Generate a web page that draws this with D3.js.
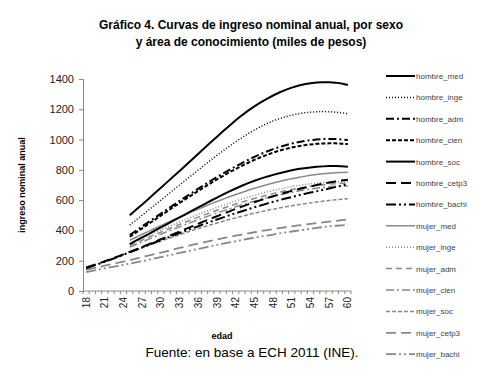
<!DOCTYPE html>
<html>
<head>
<meta charset="utf-8">
<script src="https://cdn.jsdelivr.net/npm/d3@7"></script>
<style>
  body { margin: 0; background: #fff; }
  svg { font-family: Arial, "Liberation Sans", sans-serif; }
</style>
</head>
<body>
<div id="chart"></div>
<script>
// edades (categorias del eje x)
var ages = d3.range(18, 61);

// valores (miles de pesos), universitarios desde 25, el resto desde 18
var hombre_med = [500,536,572,608,645,682,719,756,793,830,868,906,944,982,1019,1056,1092,1127,1160,1191,1219,1245,1269,1291,1311,1328,1343,1355,1365,1372,1377,1379,1379,1376,1370,1361];
var hombre_inge = [435,468,501,534,567,600,633,667,700,733,766,799,832,864,896,927,957,986,1013,1039,1063,1085,1105,1123,1138,1151,1162,1170,1177,1181,1184,1185,1184,1181,1177,1171];
var hombre_adm = [370,398,427,455,483,511,539,567,595,622,649,676,702,728,753,777,800,823,845,866,886,904,921,937,951,963,974,983,990,996,1000,1003,1004,1003,1001,997];
var hombre_cien = [358,386,414,442,470,498,526,554,581,608,635,661,687,712,737,761,784,806,827,847,866,883,899,914,927,938,948,956,963,968,972,974,975,975,973,970];
var hombre_soc = [310,332,354,376,398,420,442,464,486,508,530,552,574,596,617,638,658,677,695,712,728,742,755,767,778,788,797,805,811,816,820,823,825,825,824,821];
var hombre_cetp3 = [155,168,182,196,211,226,242,258,274,291,308,325,342,359,376,393,410,427,444,461,478,494,510,526,542,557,572,586,600,613,626,638,650,661,672,682,691,700,708,716,723,729,735];
var hombre_bachi = [150,164,178,193,208,224,240,256,272,288,304,320,336,352,368,383,398,413,428,443,458,472,486,500,514,527,540,553,565,577,589,600,611,621,631,641,650,659,668,677,686,695,705];
var mujer_med = [335,355,375,394,413,432,451,470,488,506,524,541,558,575,591,607,622,637,651,665,678,690,702,713,723,733,742,750,757,764,769,774,778,781,783,785];
var mujer_inge = [310,329,348,367,385,403,421,439,456,473,490,506,522,537,552,566,580,594,607,620,632,643,654,664,673,682,690,697,703,708,712,716,719,721,722,722];
var mujer_adm = [300,318,336,354,372,389,406,423,440,456,472,488,503,518,533,547,561,574,587,599,611,622,633,643,653,662,670,678,685,691,697,702,706,709,711,712];
var mujer_cien = [290,307,324,341,358,375,392,408,424,440,456,471,486,501,515,529,543,556,569,581,593,604,615,625,635,644,652,660,667,673,679,684,688,691,693,694];
var mujer_soc = [255,270,285,300,315,330,344,358,372,386,399,412,425,437,449,461,472,483,494,504,514,523,532,540,548,556,563,570,576,582,588,593,598,602,606,610];
var mujer_cetp3 = [140,149,158,167,176,185,194,204,214,224,234,244,254,264,274,284,294,304,313,322,331,340,349,357,365,373,381,388,395,402,409,415,421,427,433,438,443,448,453,458,463,468,473];
var mujer_bachi = [125,133,141,149,157,165,173,181,189,197,206,215,224,233,242,251,260,269,278,287,296,305,313,321,329,337,345,352,359,366,373,380,387,393,399,405,411,417,422,427,431,434,436];

var yTicks = [0, 200, 400, 600, 800, 1000, 1200, 1400];

// nombre, datos, color, ancho, trazo
var seriesList = [
    ["hombre_med", hombre_med, "#000", 2, null],
    ["hombre_inge", hombre_inge, "#000", 1.5, "1,2"],
    ["hombre_adm", hombre_adm, "#000", 2, "8,3,2,3"],
    ["hombre_cien", hombre_cien, "#000", 2, "4,2"],
    ["hombre_soc", hombre_soc, "#000", 2, null],
    ["hombre_cetp3", hombre_cetp3, "#000", 2, "10,5"],
    ["hombre_bachi", hombre_bachi, "#000", 2, "10,3,2,3,2,3"],
    ["mujer_med", mujer_med, "#888", 1.5, null],
    ["mujer_inge", mujer_inge, "#888", 1.5, "1,2"],
    ["mujer_adm", mujer_adm, "#888", 1.5, "6,4"],
    ["mujer_cien", mujer_cien, "#888", 1.5, "8,3,2,3"],
    ["mujer_soc", mujer_soc, "#888", 1.5, "4,2"],
    ["mujer_cetp3", mujer_cetp3, "#888", 1.8, "10,5"],
    ["mujer_bachi", mujer_bachi, "#888", 1.8, "10,3,2,3,2,3"]
];

var w = 501;
var h = 376;

var plotLeft = 83, plotRight = 351, plotTop = 79, plotBottom = 291;

var svg = d3.select("#chart")
            .append("svg")
            .attr("width", w)
            .attr("height", h);

// titulo
svg.append("text")
    .attr("x", 251).attr("y", 29)
    .attr("text-anchor", "middle")
    .attr("font-size", 12).attr("font-weight", "bold")
    .text("Gráfico 4. Curvas de ingreso nominal anual, por sexo");
svg.append("text")
    .attr("x", 251).attr("y", 46)
    .attr("text-anchor", "middle")
    .attr("font-size", 12).attr("font-weight", "bold")
    .text("y área de conocimiento (miles de pesos)");

var x = d3.scaleBand()
    .domain(ages)
    .range([plotLeft, plotRight]);

var y = d3.scaleLinear()
    .domain([0, 1400])
    .range([plotBottom, plotTop]);

// eje y
var yAxis = svg.append("g")
    .attr("transform", "translate(" + plotLeft + ",0)")
    .call(d3.axisLeft(y).tickValues(yTicks).tickFormat(d3.format("d")).tickSize(4).tickPadding(5));
yAxis.select(".domain").attr("stroke", "#888");
yAxis.selectAll(".tick line").attr("stroke", "#888");
yAxis.selectAll("text")
    .attr("font-size", 11)
    .attr("font-family", "Arial, 'Liberation Sans', sans-serif")
    .attr("fill", "#222");

// eje x: marcas entre categorias
var xAxis = svg.append("g")
    .attr("transform", "translate(0," + plotBottom + ")");
xAxis.append("line")
    .attr("x1", plotLeft).attr("x2", plotRight)
    .attr("stroke", "#888");
xAxis.selectAll(".minor")
    .data(ages.concat([61]))
    .enter()
    .append("line")
    .attr("x1", function (d) { return d == 61 ? plotRight : x(d); })
    .attr("x2", function (d) { return d == 61 ? plotRight : x(d); })
    .attr("y1", 0).attr("y2", 3)
    .attr("stroke", "#888");
xAxis.selectAll(".lbl")
    .data(ages.filter(function (d) { return (d - 18) % 3 == 0; }))
    .enter()
    .append("text")
    .attr("transform", function (d) {
        return "translate(" + (x(d) + x.bandwidth() / 2 + 3.5) + ",6)rotate(-90)";
    })
    .attr("text-anchor", "end")
    .attr("font-size", 10)
    .attr("fill", "#222")
    .text(function (d) { return d; });

// titulos de ejes
svg.append("text")
    .attr("transform", "translate(25,185)rotate(-90)")
    .attr("text-anchor", "middle")
    .attr("font-size", 9).attr("font-weight", "bold")
    .text("ingreso nominal anual");
svg.append("text")
    .attr("x", 222).attr("y", 339)
    .attr("text-anchor", "middle")
    .attr("font-size", 9).attr("font-weight", "bold")
    .text("edad");

// lineas
var line = d3.line()
    .x(function (d) { return x(d[0]) + x.bandwidth() / 2; })
    .y(function (d) { return y(d[1]); });

seriesList.slice().reverse().forEach(function (s) {
    var vals = s[1];
    var offset = ages.length - vals.length;
    var pts = vals.map(function (v, i) { return [ages[i + offset], v]; });
    svg.append("path")
        .datum(pts)
        .attr("d", line)
        .attr("fill", "none")
        .attr("stroke", s[2])
        .attr("stroke-width", s[3])
        .attr("stroke-dasharray", s[4]);
});

// leyenda
var legend = svg.selectAll(".legend")
    .data(seriesList)
    .enter()
    .append("g")
    .attr("transform", function (d, i) { return "translate(386," + (76 + i * 21.4) + ")"; });
legend.append("line")
    .attr("x1", 0).attr("x2", 29)
    .attr("stroke", function (d) { return d[2]; })
    .attr("stroke-width", function (d) { return d[3]; })
    .attr("stroke-dasharray", function (d) { return d[4]; });
legend.append("text")
    .attr("x", 30).attr("y", 3)
    .attr("font-size", 8)
    .attr("fill", "#444")
    .text(function (d) { return d[0]; });

// fuente
svg.append("text")
    .attr("x", 252).attr("y", 357)
    .attr("text-anchor", "middle")
    .attr("font-size", 13.5)
    .text("Fuente: en base a ECH 2011 (INE).");
</script>
</body>
</html>
